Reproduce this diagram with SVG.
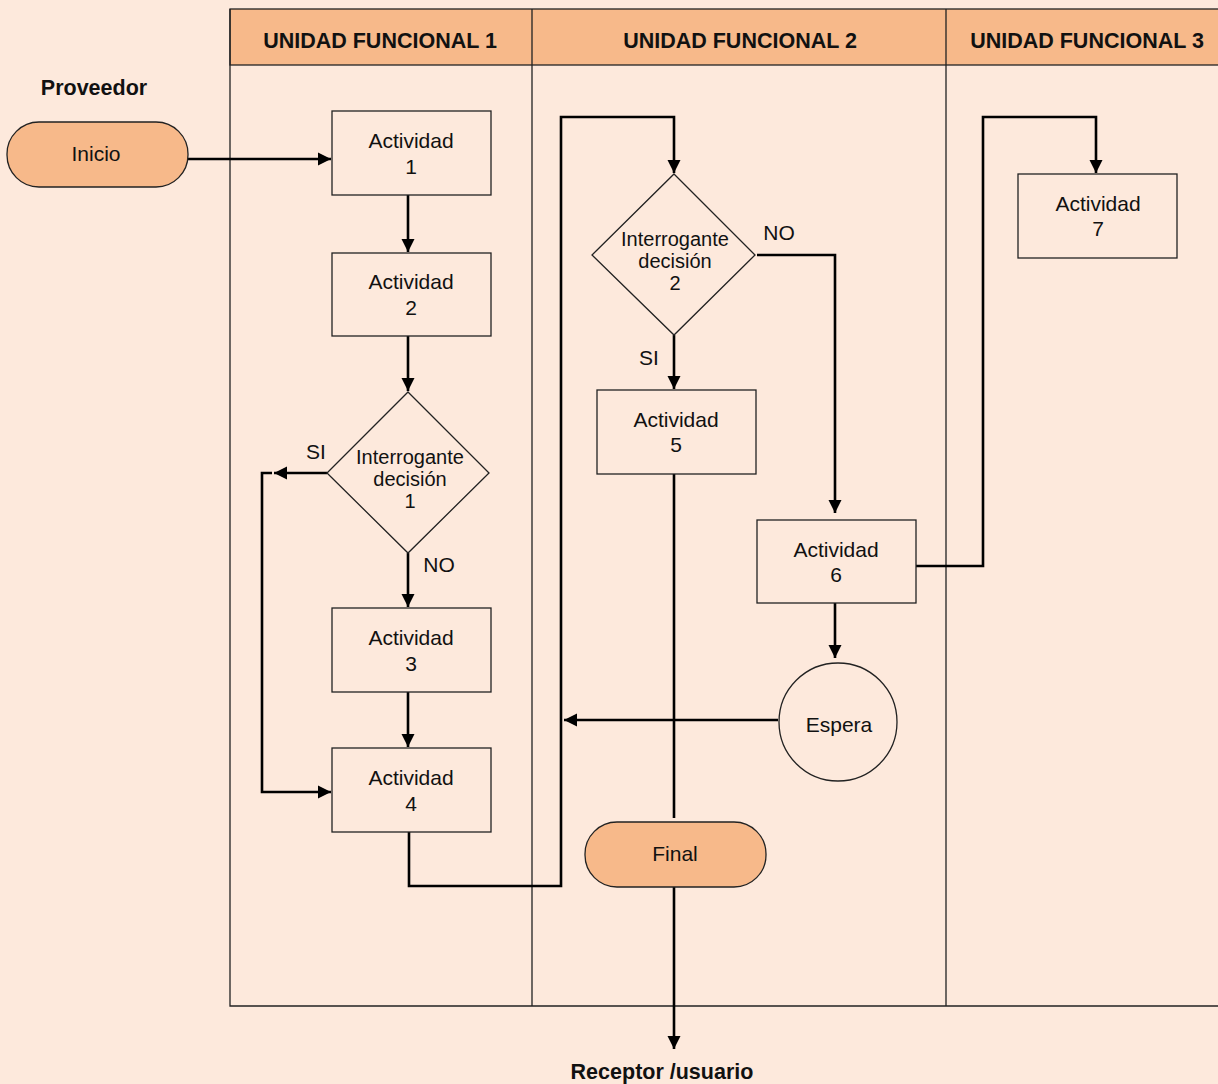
<svg xmlns="http://www.w3.org/2000/svg" width="1218" height="1084" viewBox="0 0 1218 1084">
<defs>
<marker id="ah" viewBox="0 0 10 10" refX="10" refY="5" markerWidth="13" markerHeight="14" markerUnits="userSpaceOnUse" orient="auto">
<path d="M0,0 L10,5 L0,10 z" fill="#000"/>
</marker>
<marker id="ahb" viewBox="0 0 10 10" refX="10" refY="5" markerWidth="13" markerHeight="16" markerUnits="userSpaceOnUse" orient="auto">
<path d="M0,0 L10,5 L0,10 z" fill="#000"/>
</marker>
</defs>
<style>
.t{font-family:"Liberation Sans",Arial,sans-serif;font-size:21px;fill:#111;text-anchor:middle}
.d{font-size:20px}
.b{font-family:"Liberation Sans",Arial,sans-serif;font-size:21.5px;font-weight:bold;fill:#111;text-anchor:middle}
.box{fill:none;stroke:#222;stroke-width:1.3}
.term{fill:#f7b98a;stroke:#222;stroke-width:1.3}
.c{fill:none;stroke:#000;stroke-width:2.6}
.grid{fill:none;stroke:#222;stroke-width:1.3}
</style>
<rect width="1218" height="1084" fill="#fde9dc"/>
<g id="swimlanes">
<rect x="230" y="9" width="995" height="56" fill="#f7b98a" stroke="#222" stroke-width="1.3"/>
<path class="grid" d="M230,9 V1006 H1225 M532,9 V1006 M946,9 V1006"/>
<text class="b" x="380" y="48">UNIDAD FUNCIONAL 1</text>
<text class="b" x="740" y="48">UNIDAD FUNCIONAL 2</text>
<text class="b" x="1087" y="48">UNIDAD FUNCIONAL 3</text>
</g>
<g id="connectors">
<path class="c" d="M188,159 H331" marker-end="url(#ah)"/>
<path class="c" d="M408,195 V252" marker-end="url(#ah)"/>
<path class="c" d="M408,336 V391" marker-end="url(#ah)"/>
<path class="c" d="M327,473 H274" marker-end="url(#ah)"/>
<path class="c" d="M272,473 H262 V792 H331" marker-end="url(#ah)"/>
<path class="c" d="M408,553 V607" marker-end="url(#ah)"/>
<path class="c" d="M408,692 V747" marker-end="url(#ah)"/>
<path class="c" d="M409,832 V886 H561 V117 H674 V173" marker-end="url(#ah)"/>
<path class="c" d="M757,255 H835 V513" marker-end="url(#ah)"/>
<path class="c" d="M674,335 V389" marker-end="url(#ah)"/>
<path class="c" d="M674,474 V818"/>
<path class="c" d="M674,887 V1049" marker-end="url(#ahb)"/>
<path class="c" d="M835,603 V658" marker-end="url(#ahb)"/>
<path class="c" d="M778,720 H564" marker-end="url(#ah)"/>
<path class="c" d="M916,566 H983 V117 H1096 V173" marker-end="url(#ah)"/>
<text class="t" x="316" y="459">SI</text>
<text class="t" x="439" y="572">NO</text>
<text class="t" x="779" y="240">NO</text>
<text class="t" x="649" y="365">SI</text>
</g>
<g id="proveedor"><text class="b" x="94" y="95">Proveedor</text></g>
<g id="inicio">
<rect class="term" x="7" y="122" width="181" height="65" rx="32"/>
<text class="t" x="96" y="161">Inicio</text>
</g>
<g id="actividad1">
<rect class="box" x="332" y="111" width="159" height="84"/>
<text class="t" x="411" y="148">Actividad</text><text class="t" x="411" y="174">1</text>
</g>
<g id="actividad2">
<rect class="box" x="332" y="253" width="159" height="83"/>
<text class="t" x="411" y="289">Actividad</text><text class="t" x="411" y="315">2</text>
</g>
<g id="decision1">
<polygon class="box" points="408,392 489,473 408,553 327,473"/>
<text class="t d" x="410" y="464">Interrogante</text>
<text class="t d" x="410" y="486">decisión</text>
<text class="t d" x="410" y="508">1</text>
</g>
<g id="actividad3">
<rect class="box" x="332" y="608" width="159" height="84"/>
<text class="t" x="411" y="645">Actividad</text><text class="t" x="411" y="671">3</text>
</g>
<g id="actividad4">
<rect class="box" x="332" y="748" width="159" height="84"/>
<text class="t" x="411" y="785">Actividad</text><text class="t" x="411" y="811">4</text>
</g>
<g id="decision2">
<polygon class="box" points="674,174 755,255 674,335 592,255"/>
<text class="t d" x="675" y="246">Interrogante</text>
<text class="t d" x="675" y="268">decisión</text>
<text class="t d" x="675" y="290">2</text>
</g>
<g id="actividad5">
<rect class="box" x="597" y="390" width="159" height="84"/>
<text class="t" x="676" y="427">Actividad</text><text class="t" x="676" y="452">5</text>
</g>
<g id="actividad6">
<rect class="box" x="757" y="520" width="159" height="83"/>
<text class="t" x="836" y="557">Actividad</text><text class="t" x="836" y="582">6</text>
</g>
<g id="actividad7">
<rect class="box" x="1018" y="174" width="159" height="84"/>
<text class="t" x="1098" y="211">Actividad</text><text class="t" x="1098" y="236">7</text>
</g>
<g id="espera">
<circle class="box" cx="838" cy="722" r="59"/>
<text class="t" x="839" y="732">Espera</text>
</g>
<g id="final">
<rect class="term" x="585" y="822" width="181" height="65" rx="32"/>
<text class="t" x="675" y="861">Final</text>
</g>
<g id="receptor"><text class="b" x="662" y="1079">Receptor /usuario</text></g>
</svg>
